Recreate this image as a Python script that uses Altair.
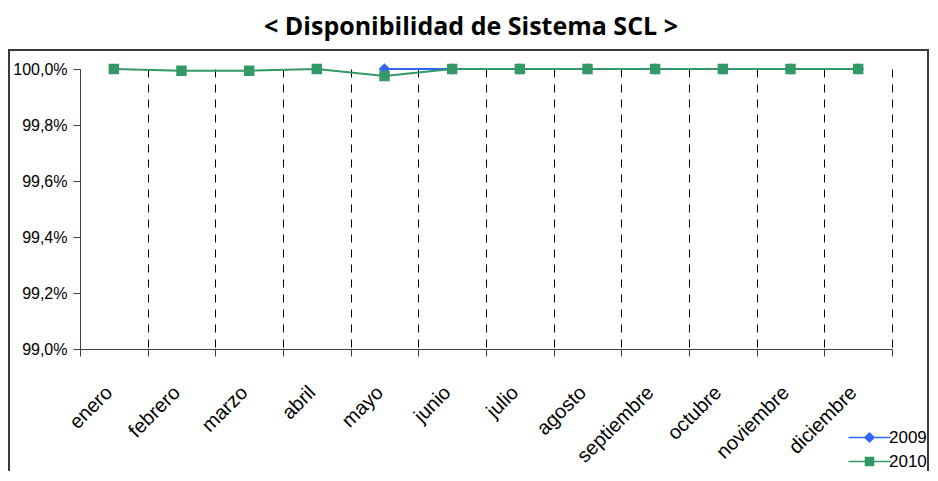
import altair as alt
import pandas as pd

meses = ["enero", "febrero", "marzo", "abril", "mayo", "junio", "julio",
         "agosto", "septiembre", "octubre", "noviembre", "diciembre"]
series = ["2009", "2010"]
valores_2009 = [None, None, None, None, 100.0, 100.0, 100.0, 100.0, 100.0, 100.0, 100.0, 100.0]
valores_2010 = [100.0, 99.994, 99.994, 100.0, 99.975, 100.0, 100.0, 100.0, 100.0, 100.0, 100.0, 100.0]
colores = ["#3366FF", "#339966"]
y_ticks = [99.0, 99.2, 99.4, 99.6, 99.8, 100.0]

# marker paths: a short horizontal line (only visible when stroked) + filled marker
formas = [
    "M-4.2,0H4.2M0,-0.9L0.9,0L0,0.9L-0.9,0Z",
    "M-4.2,0H4.2M-0.8,-0.8H0.8V0.8H-0.8Z",
]

rows = []
for serie, vals in zip(series, [valores_2009, valores_2010]):
    for i, (m, v) in enumerate(zip(meses, vals)):
        if v is not None:
            rows.append({"mes": m, "serie": serie, "valor": v, "orden": i})
df = pd.DataFrame(rows)

FONT = "Liberation Sans"

x_enc = alt.X(
    "mes:N", sort=meses,
    scale=alt.Scale(type="band", paddingInner=0, paddingOuter=0),
    axis=alt.Axis(
        title=None, labelAngle=-45, labelFont=FONT, labelFontSize=20,
        labelColor="black", labelPadding=26, labelOffset=-12,
        tickBand="extent", tickSize=7, tickColor="#404040",
        domainColor="#404040", grid=True, gridDash=[8, 7],
        gridColor="black", gridWidth=1,
    ),
)
y_enc = alt.Y(
    "valor:Q",
    scale=alt.Scale(domain=[99, 100], nice=False, zero=False),
    axis=alt.Axis(
        title=None, values=y_ticks, grid=False,
        labelExpr="replace(format(datum.value, '.1f'), '.', ',') + '%'",
        labelFont=FONT, labelFontSize=16, labelColor="black", labelPadding=6,
        tickSize=7, tickColor="#404040", domainColor="#404040",
    ),
)

base = alt.Chart(df)

lineas = [
    base.transform_filter(alt.datum.serie == s).mark_line(strokeWidth=2, color=c).encode(
        x=x_enc, y=y_enc, order=alt.Order("orden:Q")
    )
    for s, c in zip(series, colores)
]

puntos = [
    base.transform_filter(alt.datum.serie == s).mark_point(
        filled=True, size=170, strokeWidth=0, opacity=1, shape=f, fill=c
    ).encode(x=x_enc, y=y_enc)
    for s, c, f in zip(series, colores, formas)
]

color_scale = alt.Scale(domain=series, range=colores)
shape_scale = alt.Scale(domain=series, range=formas)
leyenda = alt.Legend(
    title=None, orient="none", legendX=781, legendY=360, padding=0,
    labelFont=FONT, labelFontSize=17, labelColor="black", labelOffset=11,
    rowPadding=6, symbolSize=100,
)
capa_leyenda = base.transform_filter("false").mark_point(
    filled=True, size=100, strokeWidth=2, opacity=1
).encode(
    x=x_enc, y=y_enc,
    fill=alt.Fill("serie:N", scale=color_scale, legend=leyenda),
    stroke=alt.Stroke("serie:N", scale=color_scale, legend=leyenda),
    shape=alt.Shape("serie:N", scale=shape_scale, legend=leyenda),
)

marco = alt.Chart(pd.DataFrame({"k": [0]})).mark_rect(
    filled=False, stroke="#3a3a3a", strokeWidth=2
).encode(
    x=alt.value(-71), x2=alt.value(848), y=alt.value(-19), y2=alt.value(460)
)

chart = alt.layer(marco, capa_leyenda, *lineas, *puntos).properties(
    width=812, height=280,
    autosize=alt.AutoSizeParams(type="none"),
    padding={"left": 72, "top": 61, "right": 38, "bottom": 122},
    title=alt.TitleParams(
        "< Disponibilidad de Sistema SCL >", font="Open Sans", fontSize=25,
        fontWeight="bold", anchor="middle", frame="group", dx=-15, offset=9,
        color="black",
    ),
    background="white",
).configure_view(stroke=None)

chart.save("out.html", embed_options={"renderer": "svg", "actions": False})
